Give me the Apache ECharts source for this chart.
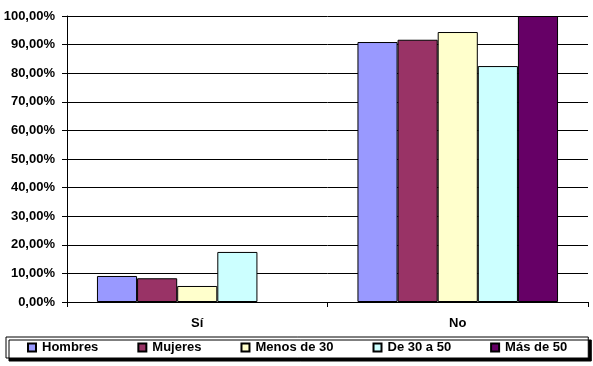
<!DOCTYPE html>
<html><head><meta charset="utf-8">
<script src="https://cdn.jsdelivr.net/npm/echarts@6/dist/echarts.min.js"></script>
<style>html,body{margin:0;padding:0;background:#fff}#c{width:593px;height:366px}</style>
</head><body><div id="c"></div>
<script>
const categories = ['Sí', 'No'];
const seriesNames = ['Hombres', 'Mujeres', 'Menos de 30', 'De 30 a 50', 'Más de 50'];
const hombres = [9.1, 90.9];
const mujeres = [8.3, 91.7];
const menos30 = [5.6, 94.4];
const de30a50 = [17.5, 82.5];
const mas50 = [0, 100];
const colors = ['#9999FF', '#993366', '#FFFFCC', '#CCFFFF', '#660066'];
const values = [hombres, mujeres, menos30, de30a50, mas50];

const font = {fontFamily: 'Liberation Sans, Arial, sans-serif', fontWeight: 'bold', fontSize: 13, color: '#000'};
const chart = echarts.init(document.getElementById('c'));
chart.setOption({
  animation: false,
  grid: {left: 67, right: 5, top: 16, bottom: 64},
  legend: {
    left: 6, top: 337, width: 570, padding: [4, 21, 4, 21], itemGap: 39,
    itemWidth: 8, itemHeight: 8, icon: 'rect',
    backgroundColor: '#fff', borderColor: '#000', borderWidth: 1,
    shadowColor: '#000', shadowBlur: 0, shadowOffsetX: 3, shadowOffsetY: 3,
    textStyle: Object.assign({}, font, {padding: [0, 0, 0, 1]}),
    data: seriesNames
  },
  xAxis: {
    type: 'category', data: categories,
    axisLine: {lineStyle: {color: '#000', width: 1}},
    axisTick: {show: true, length: 5, lineStyle: {color: '#000'}},
    axisLabel: Object.assign({}, font, {margin: 15}),
    splitLine: {show: false}
  },
  yAxis: {
    type: 'value', min: 0, max: 100, interval: 10,
    axisLine: {show: true, lineStyle: {color: '#000', width: 1}},
    axisTick: {show: true, length: 5, lineStyle: {color: '#000'}},
    axisLabel: Object.assign({}, font, {margin: 12, formatter: v => v.toFixed(2).replace('.', ',') + '%'}),
    splitLine: {show: true, lineStyle: {color: '#000', width: 1}}
  },
  series: seriesNames.map((n, i) => ({
    name: n, type: 'bar',
    data: values[i].map(v => v === 0 ? {value: v, itemStyle: {borderWidth: 0}} : v),
    barGap: '0%', barCategoryGap: '23%',
    itemStyle: {color: colors[i], borderColor: '#000', borderWidth: 1}
  }))
});
</script></body></html>
